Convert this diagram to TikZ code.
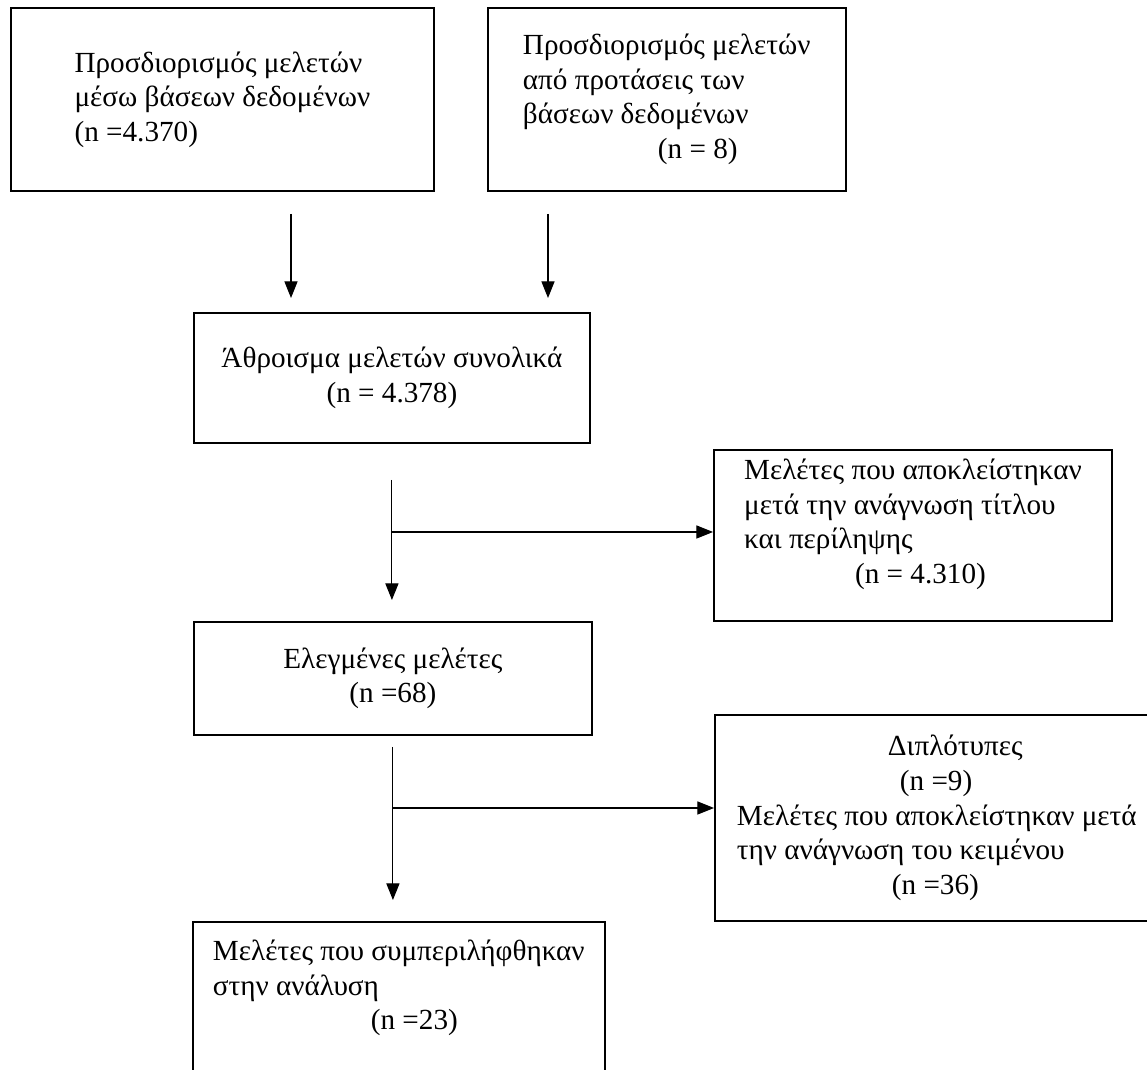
\documentclass[tikz,border=0pt]{standalone}
\usepackage{fontspec}
\setmainfont{Liberation Serif}
\usetikzlibrary{arrows.meta}
\tikzset{
  cadre/.style={rectangle, draw, line width=1.1pt, anchor=north west, inner sep=0pt,
                font=\fontsize{16.6pt}{19.7pt}\selectfont},
  arr/.style={-{Triangle[length=9.5pt,width=7.5pt]}, line width=0.6pt},
}

\begin{document}
\begin{tikzpicture}[x=0.02cm, y=-0.02cm]
  \useasboundingbox (0,0) rectangle (1147,1070);
  \node[cadre, align=left, minimum width=8.46cm, minimum height=3.66cm] (a) at (10,7)
    {Προσδιορισμός μελετών\\ μέσω βάσεων δεδομένων\\ (n =4.370)};
  \node[cadre, align=left, inner xsep=0.7cm, minimum height=3.66cm] (b) at (487,7)
    {Προσδιορισμός μελετών\\ από προτάσεις των\\ βάσεων δεδομένων\\ \hspace*{2.7cm}(n = 8)};
  \node[cadre, align=center, minimum width=7.92cm, minimum height=2.6cm] (c) at (193,312)
    {Άθροισμα μελετών συνολικά\\ (n = 4.378)};
  \node[cadre, align=left, minimum width=7.96cm, minimum height=3.42cm, text depth=0.57cm] (d) at (713,449)
    {Μελέτες που αποκλείστηκαν\\ μετά την ανάγνωση τίτλου\\ και περίληψης\\ \hspace*{2.22cm}(n = 4.310)};
  \node[cadre, align=center, minimum width=7.96cm, minimum height=2.26cm] (e) at (193,621)
    {Ελεγμένες μελέτες\\ (n =68)};
  \node[cadre, align=flush left, text width=9cm, inner xsep=0.44cm, minimum height=4.12cm] (f) at (714,714)
    {\hspace*{3.02cm}Διπλότυπες\\ \hspace*{3.26cm}(n =9)\\ Μελέτες που αποκλείστηκαν μετά\\
     την ανάγνωση του κειμένου\\ \hspace*{3.1cm}(n =36)};
  \node[cadre, align=left, inner xsep=0.4cm, inner ysep=0.36cm, text depth=2.5cm] (g) at (192,921)
    {Μελέτες που συμπεριλήφθηκαν\\ στην ανάλυση\\ \hspace*{3.16cm}(n =23)};
  \coordinate (x1) at (291,0); \coordinate (x2) at (548,0);
  \coordinate (j1) at (391,532); \coordinate (j2) at (392,808);
  \draw[arr, shorten <=0.44cm, shorten >=0.28cm] (a.south -| x1) -- (c.north -| x1);
  \draw[arr, shorten <=0.44cm, shorten >=0.28cm] (b.south -| x2) -- (c.north -| x2);
  \draw[arr, shorten <=0.72cm, shorten >=0.42cm] (c.south) -- (c.south |- e.north);
  \draw[arr] (j1) -- (j1 -| d.west);
  \draw[arr, shorten <=0.22cm, shorten >=0.42cm] (e.south) -- (e.south |- g.north);
  \draw[arr] (j2) -- (j2 -| f.west);
\end{tikzpicture}
\end{document}
